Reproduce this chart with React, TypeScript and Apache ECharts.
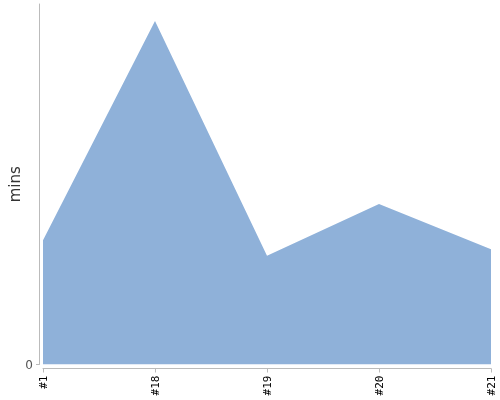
import React, { useEffect, useRef } from "react";
import * as echarts from "echarts";

const categories = ["#1", "#18", "#19", "#20", "#21"];
const minutes = [34.5, 95.3, 30.2, 44.5, 32.0];
const yMax = 100;

export default function App() {
  const ref = useRef<HTMLDivElement>(null);
  useEffect(() => {
    const chart = echarts.init(ref.current!, null, { renderer: "svg" });
    chart.setOption({
      animation: false,
      grid: {
        left: 43,
        right: 9,
        top: 4,
        bottom: 35.5,
        containLabel: false,
        outerBoundsMode: "none",
      },
      xAxis: {
        type: "category",
        data: categories,
        boundaryGap: false,
        offset: 4,
        axisLine: { show: true, onZero: false, lineStyle: { color: "#bbbbbb", width: 1 } },
        axisTick: { show: true, length: 4, lineStyle: { color: "#bbbbbb" }, alignWithLabel: true },
        axisLabel: {
          rotate: 90,
          fontFamily: "DejaVu Sans Mono",
          fontSize: 11,
          color: "#000",
          margin: 7,
        },
      },
      yAxis: {
        type: "value",
        min: 0,
        max: yMax,
        offset: 4,
        name: "mins",
        nameLocation: "middle",
        nameRotate: 90,
        nameGap: 17,
        nameMoveOverlap: false,
        nameTextStyle: { fontFamily: "DejaVu Sans", fontSize: 15, color: "#333" },
        splitLine: { show: false },
        axisLine: { show: true, onZero: false, lineStyle: { color: "#bbbbbb", width: 1 } },
        axisTick: { show: true, length: 3, lineStyle: { color: "#bbbbbb" }, customValues: [0] },
        axisLabel: {
          customValues: [0],
          formatter: (v: number) => (v === 0 ? "0" : ""),
          fontFamily: "DejaVu Sans",
          fontSize: 12,
          color: "#555",
          margin: 6,
        },
      },
      series: [
        {
          type: "line",
          data: minutes,
          showSymbol: false,
          lineStyle: { width: 0 },
          areaStyle: { color: "#8fb1d9", opacity: 1 },
        },
      ],
    });
    return () => chart.dispose();
  }, []);
  return (
    <div
      ref={ref}
      style={{ position: "fixed", left: 0, top: 0, width: 500, height: 400 }}
    />
  );
}
